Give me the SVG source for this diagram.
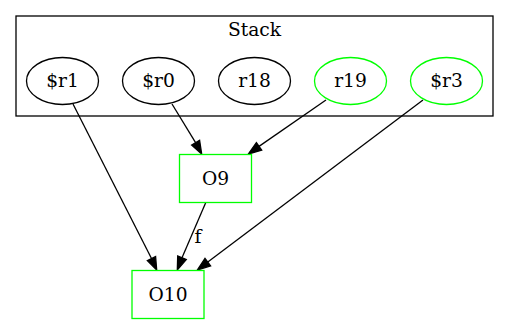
<svg xmlns="http://www.w3.org/2000/svg" width="509" height="324" viewBox="0 0 509 324">
  <style>
    text { font-family: "DejaVu Serif", "Liberation Serif", serif; font-size: 18.67px; fill: #000; text-anchor: middle; }
    .cluster { fill: none; stroke: #000; stroke-width: 1.3; }
    .plain { fill: #fff; stroke: #000; stroke-width: 1.3; }
    .green { fill: #fff; stroke: #00ff00; stroke-width: 1.3; }
    .edge { fill: none; stroke: #000; stroke-width: 1.3; }
    .head { fill: #000; stroke: #000; stroke-width: 1.3; }
  </style>
  <rect width="509" height="324" fill="#fff"/>

  <!-- cluster "Stack" -->
  <g id="cluster_stack">
    <rect class="cluster" x="16" y="16" width="477" height="100"/>
    <text x="254.5" y="35.5">Stack</text>
  </g>

  <!-- connectors -->
  <g id="edges">
    <!-- $r1 -> O10 -->
    <path class="edge" d="M73,104 L151.5,258.5"/>
    <polygon class="head" points="147.3,260.6 156.7,270 155.6,256.4"/>
    <!-- $r0 -> O9 -->
    <path class="edge" d="M172,104 L195.6,142.6"/>
    <polygon class="head" points="191.6,145 201.7,154 199.6,140.2"/>
    <!-- r19 -> O9 -->
    <path class="edge" d="M326,100 L259,146.4"/>
    <polygon class="head" points="256.4,142.6 248.3,154 261.7,150.2"/>
    <!-- $r3 -> O10 -->
    <path class="edge" d="M423,100 L207.8,262.1"/>
    <polygon class="head" points="205,258.4 197.3,270 210.6,265.8"/>
    <!-- O9 -> O10 -->
    <path class="edge" d="M206,202 L182,257.7"/>
    <polygon class="head" points="177.7,255.9 177.3,270 186.3,259.6"/>
    <text x="198" y="242.5">f</text>
  </g>

  <g id="node_r1">
    <ellipse class="plain" cx="62.5" cy="81" rx="36" ry="23.5"/>
    <text x="62.5" y="87">$r1</text>
  </g>
  <g id="node_r0">
    <ellipse class="plain" cx="158.5" cy="81" rx="36" ry="23.5"/>
    <text x="158.5" y="87">$r0</text>
  </g>
  <g id="node_r18">
    <ellipse class="plain" cx="254.5" cy="81" rx="36" ry="23.5"/>
    <text x="254.5" y="87">r18</text>
  </g>
  <g id="node_r19">
    <ellipse class="green" cx="350.5" cy="81" rx="36" ry="23.5"/>
    <text x="350.5" y="87">r19</text>
  </g>
  <g id="node_r3">
    <ellipse class="green" cx="446.5" cy="81" rx="36" ry="23.5"/>
    <text x="446.5" y="87">$r3</text>
  </g>
  <g id="node_O9">
    <rect class="green" x="179.5" y="154.5" width="72" height="48"/>
    <text x="215.5" y="184.5">O9</text>
  </g>
  <g id="node_O10">
    <rect class="green" x="132" y="270.5" width="72" height="48"/>
    <text x="168" y="300.5">O10</text>
  </g>
</svg>
